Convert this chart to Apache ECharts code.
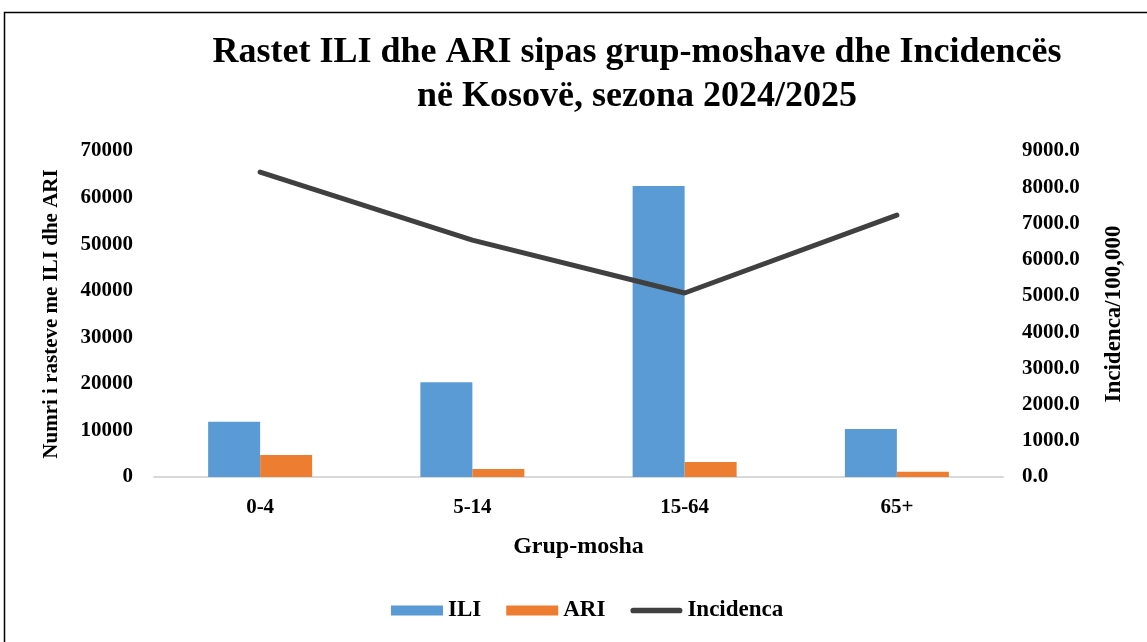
<!DOCTYPE html>
<html><head><meta charset="utf-8">
<script src="https://cdn.jsdelivr.net/npm/echarts@6/dist/echarts.min.js"></script>
<style>html,body{margin:0;padding:0;background:#fff}#c{width:1147px;height:642px}</style>
</head><body><div id="c"></div>
<script>
const categories = ['0-4', '5-14', '15-64', '65+'];
const iliValues = [11850, 20350, 62500, 10300];
const ariValues = [4700, 1700, 3200, 1150];
const incidenceValues = [8420, 6540, 5080, 7230];
const titleLines = ['Rastet ILI dhe ARI sipas grup-moshave dhe Incidencës', 'në Kosovë, sezona 2024/2025'];

const F = '"Liberation Serif", "Times New Roman", serif';
const chart = echarts.init(document.getElementById('c'));
chart.setOption({
  backgroundColor: '#fff',
  animation: false,
  graphic: [{type:'rect', shape:{x:4.5, y:12.5, width:1160, height:660}, style:{fill:'none', stroke:'#000', lineWidth:1.5}, silent:true}],
  title: {
    text: titleLines.join('\n'), left: 632, top: 26, textAlign: 'center',
    textStyle: {fontFamily: F, fontWeight: 'bold', fontSize: 36, color: '#000', lineHeight: 44}
  },
  legend: {
    top: 594, left: 386, itemGap: 25, itemWidth: 52, itemHeight: 10,
    textStyle: {fontFamily: F, fontWeight: 'bold', fontSize: 23, color: '#000'},
    data: [
      {name:'ILI', icon:'rect'},
      {name:'ARI', icon:'rect'},
      {name:'Incidenca', icon:'path://M3,0 L52,0 A3,3 0 0 1 52,6 L3,6 A3,3 0 0 1 3,0 Z', itemStyle:{color:'#404040'}}
    ]
  },
  grid: {left: 154, right: 144, top: 151, bottom: 165, containLabel: false},
  xAxis: {
    type: 'category', data: categories,
    name: 'Grup-mosha', nameLocation: 'middle', nameGap: 58,
    nameTextStyle: {fontFamily: F, fontWeight: 'bold', fontSize: 24, color: '#000'},
    axisLine: {lineStyle: {color: '#d9d9d9', width: 2}}, axisTick: {show: false},
    axisLabel: {fontFamily: F, fontWeight: 'bold', fontSize: 21, color: '#000', margin: 20}
  },
  yAxis: [{
    type: 'value', min: 0, max: 70000, interval: 10000,
    name: 'Numri i rasteve me ILI dhe ARI', nameLocation: 'middle', nameGap: 92, nameRotate: 90,
    nameTextStyle: {fontFamily: F, fontWeight: 'bold', fontSize: 21, color: '#000'},
    splitLine: {show: false}, axisLine: {show: false}, axisTick: {show: false},
    axisLabel: {fontFamily: F, fontWeight: 'bold', fontSize: 21, color: '#000', margin: 21,
      formatter: v => String(v)}
  }, {
    type: 'value', min: 0, max: 9000, interval: 1000, position: 'right',
    name: 'Incidenca/100,000', nameLocation: 'middle', nameGap: 100, nameRotate: 90,
    nameTextStyle: {fontFamily: F, fontWeight: 'bold', fontSize: 23, color: '#000'},
    splitLine: {show: false}, axisLine: {show: false}, axisTick: {show: false},
    axisLabel: {fontFamily: F, fontWeight: 'bold', fontSize: 21, color: '#000', margin: 19,
      formatter: v => v.toFixed(1)}
  }],
  series: [
    {name: 'ILI', type: 'bar', data: iliValues, barWidth: '24.5%', barGap: '0%', itemStyle: {color: '#5B9BD5'}},
    {name: 'ARI', type: 'bar', data: ariValues, barWidth: '24.5%', itemStyle: {color: '#ED7D31'}},
    {name: 'Incidenca', type: 'line', yAxisIndex: 1, data: incidenceValues, symbol: 'none',
      lineStyle: {color: '#404040', width: 5, cap: 'round'}, itemStyle: {color: '#404040'}}
  ]
});
</script></body></html>
